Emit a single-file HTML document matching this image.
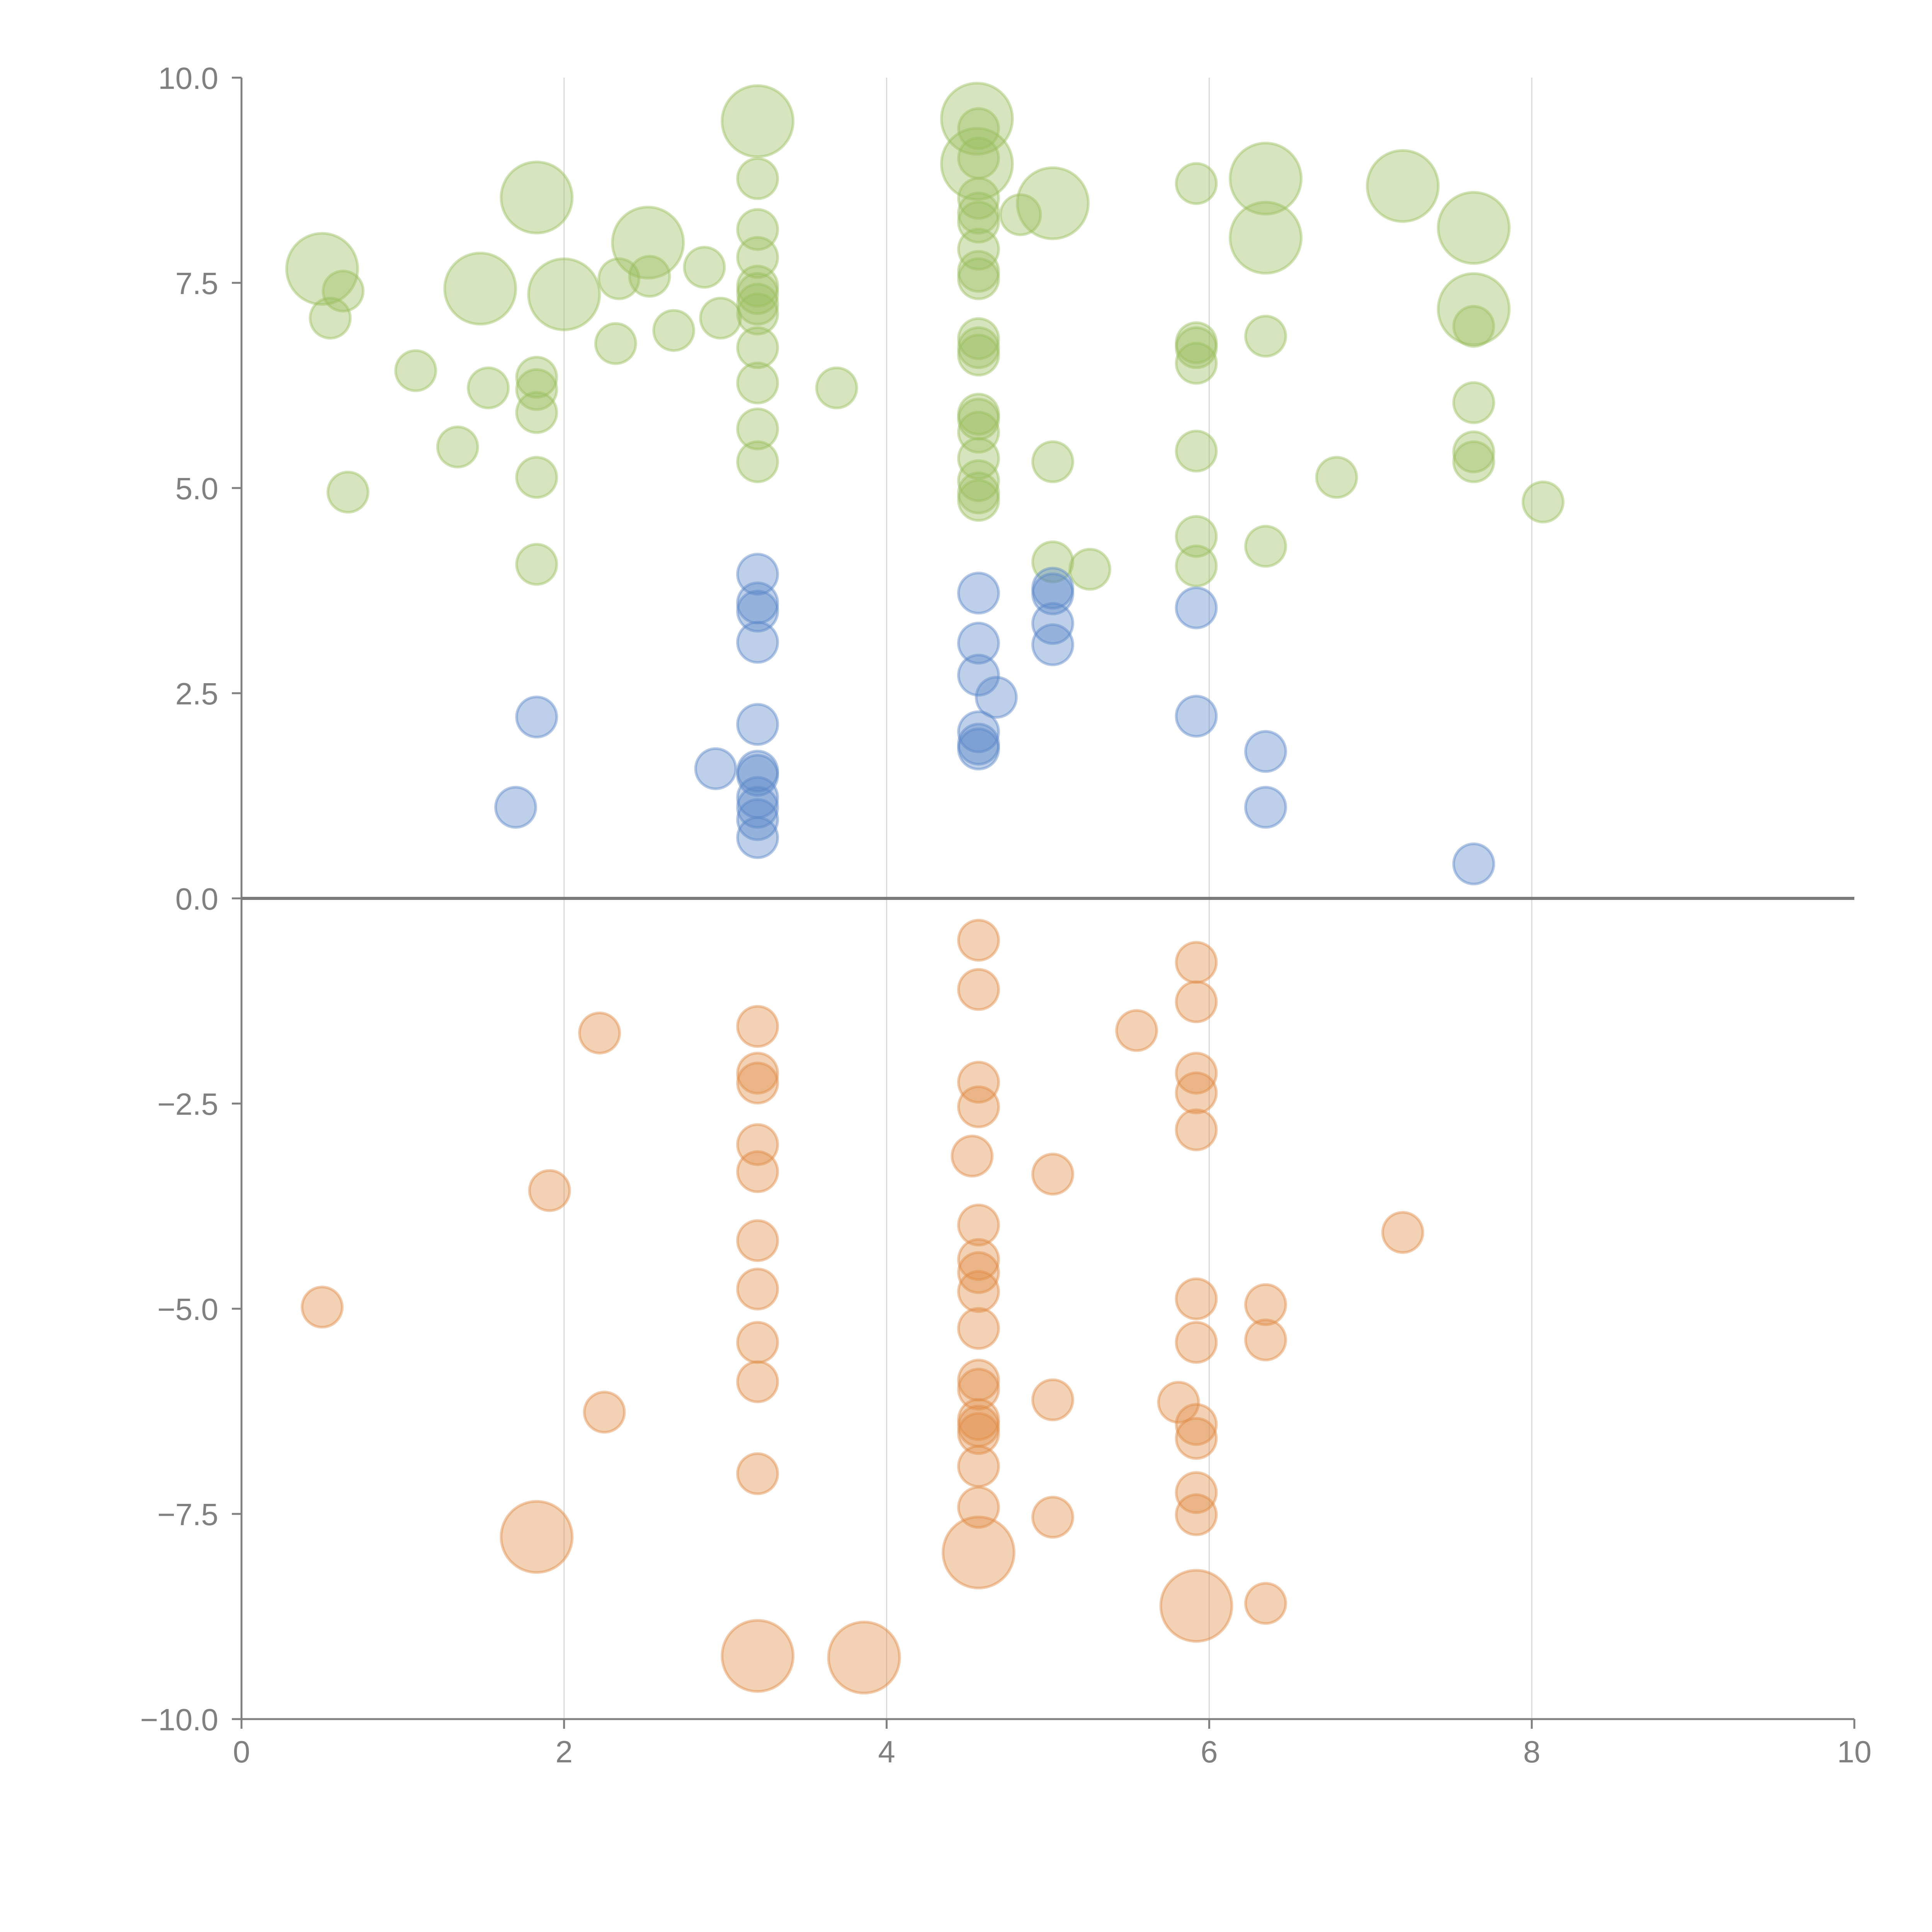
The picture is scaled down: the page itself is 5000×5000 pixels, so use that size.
<!DOCTYPE html>
<html><head><meta charset="utf-8"><style>
html,body{margin:0;padding:0;background:#fff;}
svg{display:block;}
text{font-family:"Liberation Sans",sans-serif;fill:#808080;}
</style></head><body>
<svg id="chart" width="5000" height="5000" viewBox="0 0 5000 5000" xmlns="http://www.w3.org/2000/svg">
<g id="grid"></g>
<g id="marks"></g>
<g id="axes"></g>
</svg>
<script>
const xTicks=[0,2,4,6,8,10];
const yTicks=[10,7.5,5,2.5,0,-2.5,-5,-7.5,-10];
const yTickLabels=["10.0","7.5","5.0","2.5","0.0","\u22122.5","\u22125.0","\u22127.5","\u221210.0"];
const xTickLabels=["0","2","4","6","8","10"];
// green series
const greenX=[0.5,0.63,0.55,0.66,1.08,1.34,1.48,1.53,1.83,1.83,1.83,1.83,1.83,1.83,2.0,2.32,2.34,2.52,2.53,2.68,2.87,2.97,3.2,3.2,3.2,3.2,3.2,3.2,3.2,3.2,3.2,3.2,3.2,3.2,3.69,4.56,4.56,4.57,4.57,4.57,4.57,4.57,4.57,4.57,4.57,4.57,4.57,4.57,4.57,4.57,4.57,4.57,4.57,4.57,4.57,4.83,5.03,5.03,5.03,5.26,5.92,5.92,5.92,5.92,5.92,5.92,5.92,6.35,6.35,6.35,6.35,6.79,7.2,7.64,7.64,7.64,7.64,7.64,7.64,8.07];
const greenY=[7.67,7.4,7.07,4.95,6.43,5.5,7.43,6.22,8.54,6.35,6.2,5.92,5.13,4.07,7.36,6.76,7.55,7.99,7.58,6.92,7.69,7.07,9.47,8.77,8.15,7.81,7.46,7.37,7.24,7.12,6.71,6.28,5.72,5.32,6.22,9.5,8.95,9.38,9.02,8.53,8.35,8.24,7.91,7.64,7.55,6.82,6.71,6.62,5.9,5.84,5.68,5.36,5.09,4.94,4.85,8.33,8.47,5.32,4.1,4.01,8.71,6.77,6.71,6.52,5.45,4.41,4.05,8.77,8.05,6.85,4.29,5.13,8.68,8.17,7.18,6.97,6.04,5.44,5.32,4.83];
const greenBig=[1,0,0,0,0,0,1,0,1,0,0,0,0,0,1,0,0,1,0,0,0,0,1,0,0,0,0,0,0,0,0,0,0,0,0,1,1,0,0,0,0,0,0,0,0,0,0,0,0,0,0,0,0,0,0,0,1,0,0,0,0,0,0,0,0,0,0,1,1,0,0,0,1,1,1,0,0,0,0,0];
// blue series
const blueX=[1.7,1.83,2.94,3.2,3.2,3.2,3.2,3.2,3.2,3.2,3.2,3.2,3.2,3.2,4.57,4.57,4.57,4.57,4.57,4.57,4.68,5.03,5.03,5.03,5.03,5.92,5.92,6.35,6.35,7.64];
const blueY=[1.11,2.21,1.58,3.95,3.6,3.5,3.12,2.12,1.55,1.5,1.23,1.11,0.96,0.74,3.72,3.11,2.72,2.03,1.88,1.82,2.45,3.78,3.71,3.35,3.09,3.54,2.22,1.79,1.11,0.42];
// orange series
const orangeX=[0.5,1.83,1.91,2.22,2.25,3.2,3.2,3.2,3.2,3.2,3.2,3.2,3.2,3.2,3.2,3.2,3.86,4.53,4.57,4.57,4.57,4.57,4.57,4.57,4.57,4.57,4.57,4.57,4.57,4.57,4.57,4.57,4.57,4.57,4.57,5.03,5.03,5.03,5.55,5.81,5.92,5.92,5.92,5.92,5.92,5.92,5.92,5.92,5.92,5.92,5.92,5.92,6.35,6.35,6.35,7.2];
const orangeY=[-4.98,-7.78,-3.56,-1.64,-6.26,-1.56,-2.13,-2.25,-3.0,-3.33,-4.17,-4.76,-5.41,-5.89,-7.01,-9.23,-9.25,-3.14,-0.51,-1.11,-2.24,-2.54,-3.98,-4.4,-4.56,-4.79,-5.24,-5.87,-5.98,-6.35,-6.43,-6.52,-6.92,-7.42,-7.97,-3.36,-6.11,-7.54,-1.61,-6.14,-0.78,-1.26,-2.13,-2.37,-2.82,-4.88,-5.41,-6.41,-6.58,-7.24,-7.51,-8.62,-4.95,-5.38,-8.59,-4.07];
const orangeBig=[0,1,0,0,0,0,0,0,0,0,0,0,0,0,0,1,1,0,0,0,0,0,0,0,0,0,0,0,0,0,0,0,0,0,1,0,0,0,0,0,0,0,0,0,0,0,0,0,0,0,0,1,0,0,0,0];

const X0=625,X1=4799,Y0=4449,Y1=201;
function sx(v){return X0+(v-0)/(10-0)*(X1-X0);}
function sy(v){return Y0-(v+10)/20*(Y0-Y1);}
const NS="http://www.w3.org/2000/svg";
function mk(tag,attrs,parent){const e=document.createElementNS(NS,tag);for(const k in attrs)e.setAttribute(k,attrs[k]);parent.appendChild(e);return e;}
const grid=document.getElementById('grid'),marks=document.getElementById('marks'),axes=document.getElementById('axes');
xTicks.forEach((t,i)=>{
  if(t>0&&t<10){const l=mk('line',{x1:sx(t),x2:sx(t),y1:Y1,y2:Y0,stroke:'#d9d9d9','stroke-width':3},grid);
  
  }
  const tk=mk('line',{x1:sx(t),x2:sx(t),y1:Y0,y2:Y0+25,stroke:'#808080','stroke-width':5},axes);
  
  
  const tx=mk('text',{x:sx(t),y:Y0+112,'font-size':80,'text-anchor':'middle'},axes);
  tx.textContent=xTickLabels[i];
  
  
});
yTicks.forEach((t,i)=>{
  const tk=mk('line',{x1:X0-25,x2:X0,y1:sy(t),y2:sy(t),stroke:'#808080','stroke-width':5},axes);
  
  
  const tx=mk('text',{x:X0-60,y:sy(t)+29,'font-size':80,'text-anchor':'end'},axes);
  tx.textContent=yTickLabels[i];
  
  
});
const la=mk('line',{x1:X0,x2:X0,y1:Y1,y2:Y0,stroke:'#808080','stroke-width':5},axes);


const ba=mk('line',{x1:X0,x2:X1,y1:Y0,y2:Y0,stroke:'#808080','stroke-width':5},axes);


const zl=mk('line',{x1:X0,x2:X1,y1:sy(0),y2:sy(0),stroke:'#7a7a7a','stroke-width':8},axes);


function series(xs,ys,big,color,name){
  xs.forEach((x,i)=>{
    const r=(big&&big[i])?92:52;
    const c=mk('circle',{cx:sx(x),cy:sy(ys[i]),r:r,fill:color,'fill-opacity':0.4,stroke:color,'stroke-opacity':0.45,'stroke-width':7},marks);
    
    
  });
}
series(greenX,greenY,greenBig,'rgb(155,190,95)','green-bubble');
series(blueX,blueY,null,'rgb(90,135,200)','blue-bubble');
series(orangeX,orangeY,orangeBig,'rgb(225,140,70)','orange-bubble');
</script>
</body></html>
